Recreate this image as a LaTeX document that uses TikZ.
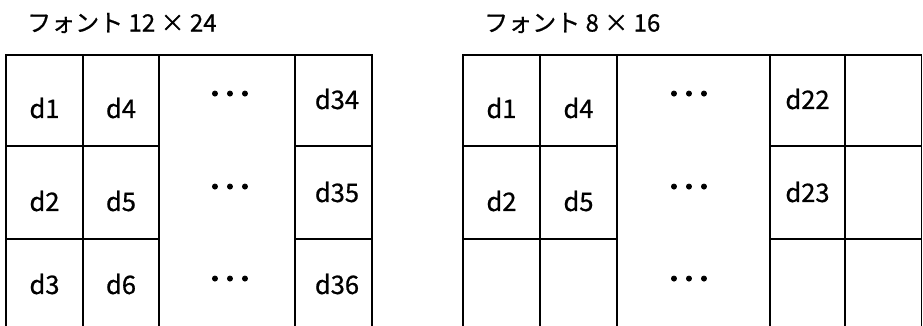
\documentclass[tikz,border=0pt]{standalone}
\usepackage{fontspec}
\setmainfont{Noto Sans CJK JP}[FakeBold=0.7]
\newfontfamily\dotfont{Noto Sans CJK JP}[FakeBold=3]

\begin{document}
\begin{tikzpicture}[x=1pt,y=-1pt,
    grid/.style={line width=1.4pt, line cap=rect},
    title/.style={anchor=west, inner sep=0pt, font=\fontsize{24}{24}\selectfont},
    cell/.style={inner sep=0pt, font=\fontsize{25.5}{25.5}\selectfont},
    dots/.style={inner sep=0pt, font=\dotfont\fontsize{30}{30}\selectfont}]
  \useasboundingbox (0,0) rectangle (923,326);

  % left table: font 12x24
  \node[title] (tA) at (27,23) {フォント 12 × 24};
  \foreach \x in {6,83,159,295,372} \draw[grid] (\x,55) -- (\x,326);
  \draw[grid] (6,55) -- (372,55);
  \draw[grid] (6,146) -- (159,146);
  \draw[grid] (295,146) -- (372,146);
  \draw[grid] (6,239) -- (159,239);
  \draw[grid] (295,239) -- (372,239);

  \node[cell] (a1) at (44.5,108) {d1};
  \node[cell] (a4) at (121,108) {d4};
  \node[cell] (a34) at (337,99) {d34};
  \node[cell] (a2) at (44.5,201) {d2};
  \node[cell] (a5) at (121,201) {d5};
  \node[cell] (a35) at (337,192) {d35};
  \node[cell] (a3) at (44.5,284) {d3};
  \node[cell] (a6) at (121,284) {d6};
  \node[cell] (a36) at (337,284) {d36};
  \foreach \y/\n in {98/1,191/2,283/3} \node[dots] (ad\n) at (230,\y) {･･･};

  % right table: font 8x16
  \node[title] (tB) at (484,23) {フォント 8 × 16};
  \foreach \x in {463,540,617,770,845,921.5} \draw[grid] (\x,55) -- (\x,326);
  \draw[grid] (463,55) -- (921.5,55);
  \draw[grid] (463,146) -- (617,146);
  \draw[grid] (770,146) -- (921.5,146);
  \draw[grid] (463,239) -- (617,239);
  \draw[grid] (770,239) -- (921.5,239);

  \node[cell] (b1) at (501.5,108) {d1};
  \node[cell] (b4) at (578.5,108) {d4};
  \node[cell] (b22) at (807.5,99) {d22};
  \node[cell] (b2) at (501.5,201) {d2};
  \node[cell] (b5) at (578.5,201) {d5};
  \node[cell] (b23) at (807.5,192) {d23};
  \foreach \y/\n in {98/1,191/2,283/3} \node[dots] (bd\n) at (689,\y) {･･･};
\end{tikzpicture}
\end{document}
